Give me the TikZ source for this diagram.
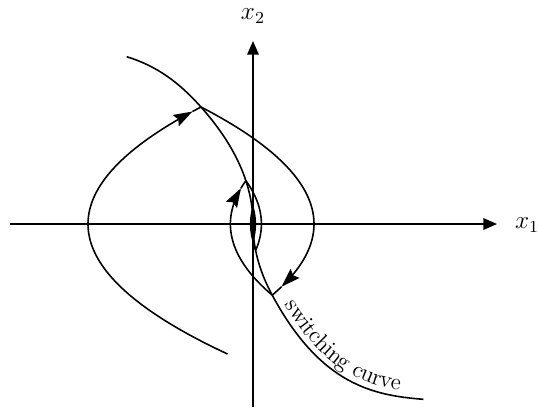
\documentclass[tikz,border=0pt]{standalone}
\usetikzlibrary{arrows.meta,decorations.text}
\begin{document}
\begin{tikzpicture}[x=0.4758pt,y=0.4758pt,
  curve/.style={line width=0.75pt},
  axis/.style={line width=0.75pt,-{Triangle[length=6.5pt,width=5.5pt]}},
  flow/.style={line width=0.75pt,-{Stealth[length=9pt,width=6pt,inset=1.3pt]}},
  lbl/.style={font=\large}]
\useasboundingbox (-253,-183) rectangle (285,224);
% axes
\coordinate (xs) at (-243,0);
\coordinate (xe) at (244,0);
\coordinate (ys) at (0,-183);
\coordinate (ye) at (0,183);
\draw[axis] (xs) -- (xe);
\draw[axis] (ys) -- (ye);
\node[lbl] (x1) at (274,-1) {$x_1$};
\node[lbl] (x2) at (0,208) {$x_2$};
% junction points
\coordinate (T) at (-126.3,167.3);
\coordinate (A) at (-52.05,117);
\coordinate (B) at (19.24,-71.15);
\coordinate (C) at (-7.1,43.3);
\coordinate (D) at (2.65,-26.4);
\coordinate (E) at (170.3,-175.3);
% switching curve
\draw[curve] (T) .. controls (-96.3,158) and (-74.3,142) .. (A)
  -- plot[domain=-117:71.15,samples=90] ({0.0038*(\x)*abs(\x)},{-(\x)})
  .. controls (67.8,-161.15) and (120.3,-171.3) .. (E);
\path[decorate,decoration={text along path,text={|\fontsize{11}{13}\selectfont|switching curve},raise=3pt,text align={left indent=7pt}}]
  (B) .. controls (67.8,-161.15) and (120.3,-171.3) .. (E);
% big trajectory, left arc (upward)
\draw[flow] plot[domain=-130:112.5,samples=80] ({-165+0.00825*(\x)*(\x)},{\x});
\draw[curve] plot[domain=112.5:117,samples=5] ({-165+0.00825*(\x)*(\x)},{\x});
% big trajectory, right arc (downward)
\draw[flow] plot[domain=-117:62.7,samples=80] ({61-0.00825*(\x)*(\x)},{-(\x)});
\draw[curve] plot[domain=62.7:71.15,samples=5] ({61-0.00825*(\x)*(\x)},{-(\x)});
% inner trajectory, left arc (upward)
\draw[flow] plot[domain=-71.15:35.7,samples=60] ({-22.6+0.00825*(\x)*(\x)},{\x});
\draw[curve] plot[domain=35.7:43.3,samples=5] ({-22.6+0.00825*(\x)*(\x)},{\x});
% inner trajectory, right arc (downward)
\draw[curve] plot[domain=-26.4:43.3,samples=40] ({8.4-0.00825*(\x)*(\x)},{\x});
% converging spiral near origin
\draw[curve] plot[domain=-26.4:-19.4,samples=8] ({-3.1+0.00825*(\x)*(\x)},{\x});
\fill plot[domain=-19.4:19.4,samples=30] ({-3.1+0.00825*(\x)*(\x)},{\x})
  -- plot[domain=-19.4:19.4,samples=30] ({3.1-0.00825*(\x)*(\x)},{-(\x)}) -- cycle;
\end{tikzpicture}
\end{document}
